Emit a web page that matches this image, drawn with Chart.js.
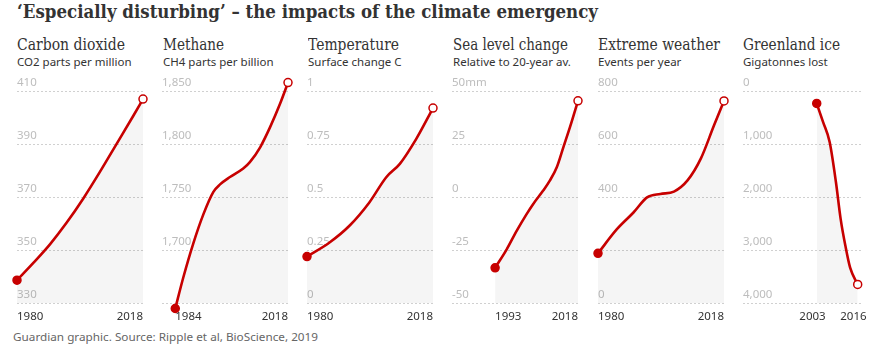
<!DOCTYPE html>
<html><head><meta charset="utf-8">
<script src="https://cdn.jsdelivr.net/npm/chart.js@4.4.1/dist/chart.umd.min.js"></script>
<style>
html,body{margin:0;padding:0;background:#fff;}
body{width:885px;height:354px;position:relative;overflow:hidden;}
.t{position:absolute;white-space:nowrap;transform-origin:0 0;line-height:1;}
#title{left:17px;top:3px;font-weight:bold;font-size:18px;font-family:'DejaVu Serif';color:#333;}
.h{top:37px;font-size:16px;font-family:'DejaVu Serif';color:#333;}
.s{top:56px;font-size:11.5px;font-family:'Noto Sans';color:#333;}
#foot{left:13px;top:331px;font-size:11px;font-family:'Noto Sans';color:#666;}
canvas{position:absolute;}
</style></head><body>
<div class="t" id="title" data-w="581">‘Especially disturbing’ – the impacts of the climate emergency</div>
<div class="t h" style="left:17px" data-w="108">Carbon dioxide</div>
<div class="t h" style="left:163px" data-w="61">Methane</div>
<div class="t h" style="left:308px" data-w="91">Temperature</div>
<div class="t h" style="left:453px" data-w="115">Sea level change</div>
<div class="t h" style="left:598px" data-w="122">Extreme weather</div>
<div class="t h" style="left:743px" data-w="97">Greenland ice</div>
<div class="t s" style="left:17px">CO2 parts per million</div>
<div class="t s" style="left:163px">CH4 parts per billion</div>
<div class="t s" style="left:308px">Surface change C</div>
<div class="t s" style="left:453px">Relative to 20-year av.</div>
<div class="t s" style="left:598px">Events per year</div>
<div class="t s" style="left:743px">Gigatonnes lost</div>
<div class="t" id="foot" data-w="305">Guardian graphic. Source: Ripple et al, BioScience, 2019</div>
<script>
// ---- data ----
const co2Years = [1980, 1985, 1990, 1995, 2000, 2005, 2010, 2015, 2018];
const co2Values = [338.7, 345.3, 352.3, 360.4, 369.5, 379.5, 390, 400.5, 407];
const co2Ticks = [330, 350, 370, 390, 410];
const co2TickLabels = ['330', '350', '370', '390', '410'];
const co2XTicks = [1980, 2018];

const ch4Years = [1984, 1986.4, 1989.4, 1992.5, 1995.5, 1997.5, 2000.5, 2004.5, 2006.5, 2009.6, 2012.6, 2015.6, 2018];
const ch4Values = [1645, 1674, 1706, 1734, 1755, 1762, 1769, 1777, 1783, 1797, 1816, 1838, 1858];
const ch4Ticks = [1650, 1700, 1750, 1800, 1850];
const ch4TickLabels = ['', '1,700', '1,750', '1,800', '1,850'];
const ch4XTicks = [1984, 2018];

const tempYears = [1980, 1986.7, 1992.8, 1998.8, 2003.9, 2008, 2013, 2018];
const tempValues = [0.22, 0.285, 0.365, 0.475, 0.594, 0.657, 0.776, 0.92];
const tempTicks = [0, 0.25, 0.5, 0.75, 1];
const tempTickLabels = ['0', '0.25', '0.5', '0.75', '1'];
const tempXTicks = [1980, 2018];

const seaYears = [1993, 1996.5, 1999.5, 2002.5, 2004.5, 2007.5, 2009.5, 2011.6, 2013.6, 2015.6, 2018];
const seaValues = [-33.3, -24.6, -15.9, -8, -3.2, 3.1, 7.8, 14.1, 23.6, 33.1, 45.4];
const seaTicks = [-50, -25, 0, 25, 50];
const seaTickLabels = ['-50', '-25', '0', '25', '50mm'];
const seaXTicks = [1993, 2018];

const wxYears = [1980, 1985.7, 1990.7, 1994.8, 1998.8, 2002.9, 2007, 2011, 2015, 2018];
const wxValues = [188, 279, 342, 399, 412, 421, 463, 545, 671, 763];
const wxTicks = [0, 200, 400, 600, 800];
const wxTickLabels = ['0', '', '400', '600', '800'];
const wxXTicks = [1980, 2018];

const iceYears = [2003.4, 2005.4, 2007.5, 2009.5, 2011, 2012.5, 2014, 2016.4];
const iceValues = [233, 582, 961, 1719, 2414, 2919, 3331, 3646];
const iceTicks = [0, 1000, 2000, 3000, 4000];
const iceTickLabels = ['0', '1,000', '2,000', '3,000', '4,000'];
const iceXTicks = [2003, 2016];

// ---- layout ----
const panels = [
  {left: 17, years: co2Years, values: co2Values, yTicks: co2Ticks, yLabels: co2TickLabels, xTicks: co2XTicks},
  {left: 162, years: ch4Years, values: ch4Values, yTicks: ch4Ticks, yLabels: ch4TickLabels, xTicks: ch4XTicks},
  {left: 307, years: tempYears, values: tempValues, yTicks: tempTicks, yLabels: tempTickLabels, xTicks: tempXTicks},
  {left: 452, years: seaYears, values: seaValues, yTicks: seaTicks, yLabels: seaTickLabels, xTicks: seaXTicks},
  {left: 598, years: wxYears, values: wxValues, yTicks: wxTicks, yLabels: wxTickLabels, xTicks: wxXTicks},
  {left: 743, years: iceYears, values: iceValues, yTicks: iceTicks, yLabels: iceTickLabels, xTicks: iceXTicks, reverse: true, xAlign: 'center', xOffset: -3}
];

const RED = '#c70000';
const GRID_TOP = 91, GRID_SPAN = 211, CANVAS_TOP = 70, EXT = 0.06;
function makeChart(p) {
  const cv = document.createElement('canvas');
  cv.width = 142; cv.height = 262;
  cv.style.left = (p.left - 8) + 'px';
  cv.style.top = CANVAS_TOP + 'px';
  document.body.appendChild(cv);
  const n = p.years.length;
  const tMin = Math.min(...p.yTicks), tMax = Math.max(...p.yTicks);
  const ext = (tMax - tMin) * EXT;
  // extend the view above the top tick so the end markers stay drawable
  const vMin = p.reverse ? tMin - ext : tMin;
  const vMax = p.reverse ? tMax : tMax + ext;
  const padTop = GRID_TOP - CANVAS_TOP - EXT * GRID_SPAN;
  new Chart(cv, {
    type: 'line',
    data: {datasets: [{
      data: p.years.map((y, i) => ({x: y, y: p.values[i]})),
      borderColor: RED,
      borderWidth: 2.6,
      backgroundColor: 'rgba(0,0,0,0.038)',
      fill: {value: p.reverse ? tMax : tMin},
      cubicInterpolationMode: 'monotone',
      clip: false,
      pointRadius: c => (c.dataIndex === 0 || c.dataIndex === n - 1) ? 4 : 0,
      pointBackgroundColor: c => c.dataIndex === 0 ? RED : '#fff',
      pointBorderColor: RED,
      pointBorderWidth: 1.5
    }]},
    options: {
      responsive: false, animation: false, devicePixelRatio: 1, events: [],
      layout: {padding: {left: 8, right: 8, top: padTop, bottom: 1}, autoPadding: false},
      plugins: {legend: {display: false}, tooltip: {enabled: false}},
      scales: {
        x: {
          type: 'linear', min: 1980, max: 2018,
          afterBuildTicks: s => { s.ticks = p.xTicks.map(v => ({value: v})); },
          grid: {display: false, drawTicks: false},
          border: {display: false},
          ticks: {align: p.xAlign || 'inner', padding: 7, labelOffset: p.xOffset || 0,
                  color: '#333', font: {family: 'Noto Sans', size: 11.5},
                  maxRotation: 0, autoSkip: false, callback: v => String(v)}
        },
        y: {
          type: 'linear', min: vMin, max: vMax, reverse: !!p.reverse,
          afterBuildTicks: s => { s.ticks = p.yTicks.map(v => ({value: v})); },
          grid: {display: true, drawOnChartArea: true, color: '#d0d0d0', lineWidth: 1, drawTicks: false},
          border: {display: false, dash: [2, 2]},
          ticks: {mirror: true, padding: 0, labelOffset: -8, color: '#bdbdbd', autoSkip: false,
                  font: {family: 'Noto Sans', size: 11.5},
                  callback: (v, i) => p.yLabels[i]}
        }
      }
    }
  });
}
panels.forEach(makeChart);

// fit text widths
document.querySelectorAll('[data-w]').forEach(el => {
  const w = el.getBoundingClientRect().width;
  const target = +el.dataset.w;
  if (w > 0) el.style.transform = 'scaleX(' + (target / w) + ')';
});
</script>
</body></html>
